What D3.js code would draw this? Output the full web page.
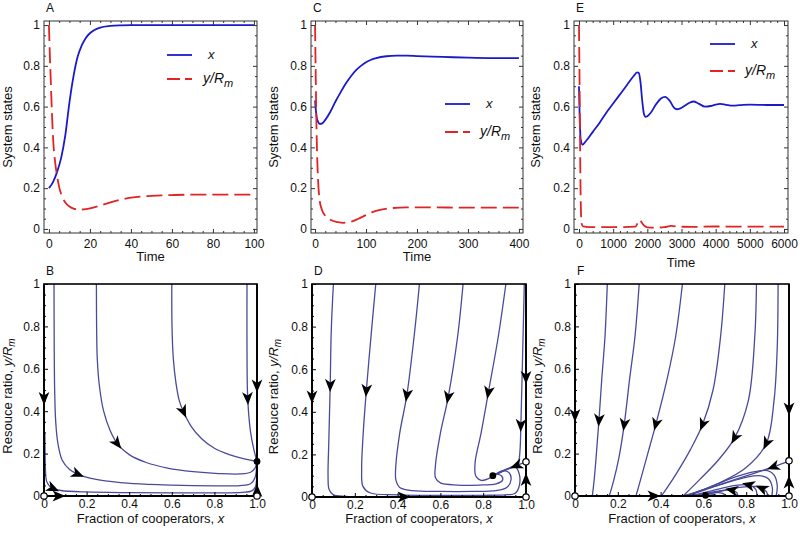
<!DOCTYPE html>
<html><head><meta charset="utf-8">
<script src="https://cdn.jsdelivr.net/npm/d3@7"></script>
<style>
body{margin:0;background:#fff}
svg{display:block}
text{font-family:"Liberation Sans",Arial,Helvetica,sans-serif;fill:#111}
</style>
</head><body>
<svg id="c" width="800" height="537"></svg>
<script>
// ================= DATA =================
// Panel A (time series)
const tA_x=[0,2,4,6,8,10,12,14,16,18,20,22,25,30,35,40,50,60,70,80,90,100];
const xA=[0.2,0.23,0.28,0.35,0.46,0.62,0.75,0.845,0.9,0.937,0.96,0.975,0.988,0.996,0.999,1,1,1,1,1,1,1];
const tA_y=[0,0.5,1,1.5,2,3,4,5,6,8,10,12,15,18,22,26,30,35,40,50,60,70,80,90,100];
const yA=[1,0.84,0.7,0.56,0.45,0.33,0.26,0.205,0.17,0.13,0.11,0.1,0.095,0.097,0.106,0.118,0.13,0.143,0.153,0.162,0.166,0.168,0.168,0.168,0.168];
// Panel C
const tC_x=[0,2,5,10,15,20,30,40,50,60,70,80,90,100,110,120,140,160,180,200,250,300,350,400];
const xC=[0.63,0.57,0.53,0.515,0.52,0.535,0.575,0.625,0.67,0.712,0.748,0.778,0.8,0.818,0.83,0.838,0.847,0.85,0.85,0.848,0.844,0.84,0.838,0.838];
const tC_y=[0,1,2,3,4,5,6.5,9,13,20,30,45,55,70,85,100,115,130,150,180,220,300,400];
const yC=[1,0.8,0.62,0.47,0.36,0.29,0.21,0.14,0.097,0.065,0.045,0.033,0.03,0.035,0.05,0.068,0.085,0.095,0.102,0.106,0.106,0.104,0.104];
// Panel E
const tE_x=[0,20,50,100,200,400,600,800,1000,1200,1400,1600,1700,1750,1800,1850,1900,1950,2000,2100,2250,2400,2520,2650,2780,2860,2950,3100,3250,3350,3500,3690,3850,4000,4130,4300,4500,4700,5000,5500,6000];
const xE=[0.7,0.55,0.44,0.413,0.43,0.475,0.52,0.57,0.615,0.66,0.705,0.75,0.768,0.765,0.72,0.63,0.565,0.55,0.553,0.57,0.61,0.64,0.648,0.63,0.595,0.587,0.59,0.605,0.62,0.625,0.615,0.6,0.603,0.61,0.613,0.609,0.605,0.607,0.61,0.608,0.608];
const tE_y=[0,15,30,45,60,80,120,300,800,1300,1650,1720,1760,1800,1850,1900,2000,2200,2500,2700,2900,3300,4000,5000,6000];
const yE=[1,0.75,0.45,0.2,0.07,0.025,0.012,0.009,0.009,0.009,0.011,0.03,0.045,0.04,0.028,0.017,0.008,0.006,0.009,0.015,0.011,0.01,0.012,0.011,0.011];

// Tick values / labels
const ticksTimeA=[0,20,40,60,80,100];
const ticksTimeC=[0,100,200,300,400];
const ticksTimeE=[0,1000,2000,3000,4000,5000,6000];
const ticksState=[0,0.2,0.4,0.6,0.8,1];
const labelsState=["0","0.2","0.4","0.6","0.8","1"];
const ticksFrac=[0,0.2,0.4,0.6,0.8,1];
const labelsFracX=["0","0.2","0.4","0.6","0.8","1.0"];
const labelsFracY=["0","0.2","0.4","0.6","0.8","1"];

// Panel B (phase portrait) trajectories [x, y/Rm]
const trajB=[
 {pts:[[0.004,0.3],[0.005,0.2],[0.007,0.12],[0.012,0.07],[0.025,0.048],[0.042,0.036],[0.08,0.026],[0.2,0.019],[0.4,0.016],[0.6,0.015],[0.8,0.015],[0.93,0.017],[0.975,0.024],[0.993,0.045],[0.999,0.1],[1,0.163]], arrows:[[0.042,0.036]]},
 {pts:[[0.047,1],[0.048,0.7],[0.05,0.5],[0.055,0.35],[0.065,0.25],[0.085,0.17],[0.12,0.125],[0.16,0.102],[0.22,0.083],[0.3,0.07],[0.42,0.058],[0.6,0.051],[0.8,0.048],[0.92,0.049],[0.97,0.058],[0.99,0.085],[1,0.163]], arrows:[[0.16,0.102]]},
 {pts:[[0.246,1],[0.247,0.8],[0.25,0.65],[0.26,0.52],[0.28,0.4],[0.31,0.31],[0.344,0.247],[0.4,0.195],[0.48,0.158],[0.58,0.132],[0.7,0.115],[0.82,0.106],[0.92,0.104],[0.97,0.112],[0.99,0.13],[1,0.163]], arrows:[[0.344,0.247]]},
 {pts:[[0.6,1],[0.601,0.8],[0.607,0.65],[0.62,0.53],[0.635,0.45],[0.655,0.397],[0.69,0.33],[0.74,0.27],[0.8,0.225],[0.87,0.195],[0.94,0.175],[1,0.163]], arrows:[[0.655,0.397]]},
 {pts:[[0.953,1],[0.953,0.7],[0.955,0.5],[0.96,0.4],[0.97,0.3],[0.985,0.22],[1,0.163]], arrows:[[0.954,0.46]]}
];
const edgesB=[
 {pts:[[0,1],[0,0]], arrows:[[0,0.46]]},
 {pts:[[0,0],[1,0]], arrows:[[0.07,0]]},
 {pts:[[1,1],[1,0.163]], arrows:[[1,0.52]]},
 {pts:[[1,0],[1,0.163]], arrows:[[1,0.025]]}
];
const openB=[[0,0],[1,0]];
const solidB=[[1,0.163]];

// Panel D
const trajD=[
 {pts:[[0.1,1],[0.09,0.78],[0.085,0.523],[0.078,0.24],[0.075,0.1],[0.08,0.035],[0.1,0.01],[0.16,0.003],[0.25,0.001],[0.4,0]], arrows:[[0.085,0.523]]},
 {pts:[[0.298,1],[0.278,0.78],[0.254,0.5],[0.24,0.31],[0.232,0.13],[0.238,0.05],[0.27,0.02],[0.4,0.01],[0.6,0.008],[0.8,0.008],[0.9,0.01],[0.95,0.018],[0.968,0.05],[0.968,0.11],[0.95,0.14],[0.91,0.13],[0.87,0.11],[0.845,0.1]], arrows:[[0.254,0.5]]},
 {pts:[[0.502,1],[0.48,0.78],[0.443,0.477],[0.41,0.3],[0.392,0.15],[0.392,0.08],[0.41,0.045],[0.47,0.03],[0.6,0.026],[0.75,0.026],[0.86,0.03],[0.91,0.045],[0.93,0.08],[0.92,0.115],[0.89,0.122],[0.86,0.108],[0.845,0.1]], arrows:[[0.443,0.477]]},
 {pts:[[0.706,1],[0.68,0.75],[0.636,0.467],[0.6,0.3],[0.577,0.15],[0.577,0.09],[0.6,0.066],[0.68,0.056],[0.78,0.056],[0.86,0.062],[0.89,0.078],[0.885,0.1],[0.86,0.106],[0.845,0.1]], arrows:[[0.636,0.467]]},
 {pts:[[0.906,1],[0.87,0.75],[0.824,0.49],[0.79,0.3],[0.762,0.16],[0.765,0.1],[0.79,0.078],[0.825,0.086],[0.845,0.1]], arrows:[[0.824,0.49]]},
 {pts:[[0.992,1],[0.985,0.7],[0.976,0.337],[0.972,0.22],[0.965,0.17],[0.94,0.145],[0.9,0.127],[0.845,0.1]], arrows:[[0.976,0.337]]},
 {pts:[[1,0.165],[0.955,0.147],[0.9,0.125],[0.845,0.1]], arrows:[[0.955,0.147]]}
];
const edgesD=[
 {pts:[[0,1],[0,0]], arrows:[[0,0.47]]},
 {pts:[[0,0],[1,0]], arrows:[[0.43,0]]},
 {pts:[[1,1],[1,0.165]], arrows:[[1,0.56]]},
 {pts:[[1,0],[1,0.165]], arrows:[[1,0.082]]}
];
const openD=[[0,0],[1,0],[1,0.165]];
const solidD=[[0.845,0.1]];

// Panel F
const trajF=[
 {pts:[[0.151,1],[0.14,0.75],[0.125,0.55],[0.112,0.357],[0.1,0.2],[0.09,0.08],[0.081,0]], arrows:[[0.112,0.357]]},
 {pts:[[0.3,1],[0.28,0.75],[0.255,0.55],[0.23,0.337],[0.205,0.18],[0.18,0.07],[0.16,0]], arrows:[[0.23,0.337]]},
 {pts:[[0.502,1],[0.47,0.75],[0.43,0.55],[0.378,0.339],[0.34,0.2],[0.31,0.09],[0.285,0]], arrows:[[0.378,0.339]]},
 {pts:[[0.7,1],[0.68,0.75],[0.645,0.5],[0.596,0.337],[0.54,0.22],[0.47,0.1],[0.404,0]], arrows:[[0.596,0.337]]},
 {pts:[[0.848,1],[0.84,0.75],[0.81,0.45],[0.746,0.274],[0.67,0.17],[0.58,0.075],[0.505,0]], arrows:[[0.746,0.274]]},
 {pts:[[0.949,1],[0.945,0.7],[0.93,0.45],[0.894,0.248],[0.8,0.135],[0.67,0.06],[0.52,0]], arrows:[[0.894,0.248]]},
 {pts:[[1,0.166],[0.926,0.137],[0.8,0.095],[0.68,0.055],[0.58,0.02],[0.53,0.005],[0.5,0]], arrows:[[0.926,0.137]]},
 {pts:[[0.94,0],[0.945,0.05],[0.93,0.1],[0.9,0.12],[0.84,0.115],[0.75,0.09],[0.65,0.05],[0.56,0.015],[0.5,0]], arrows:[]},
 {pts:[[0.92,0],[0.922,0.04],[0.905,0.08],[0.87,0.095],[0.8,0.088],[0.7,0.06],[0.6,0.03],[0.53,0.006]], arrows:[]},
 {pts:[[0.9,0],[0.895,0.02],[0.873,0.036],[0.84,0.045],[0.78,0.042],[0.7,0.027],[0.62,0.01],[0.56,0.002]], arrows:[[0.873,0.036]]},
 {pts:[[0.85,0],[0.845,0.03],[0.81,0.052],[0.75,0.05],[0.68,0.035],[0.6,0.015],[0.54,0.003]], arrows:[[0.81,0.052]]},
 {pts:[[0.76,0],[0.757,0.015],[0.732,0.028],[0.69,0.027],[0.64,0.018],[0.59,0.008],[0.55,0.002]], arrows:[[0.732,0.028]]},
 {pts:[[0.7,0],[0.695,0.01],[0.67,0.016],[0.63,0.013],[0.59,0.006],[0.56,0]], arrows:[]},
 {pts:[[0.66,0],[0.655,0.006],[0.63,0.009],[0.6,0.006],[0.57,0]], arrows:[]}
];
const edgesF=[
 {pts:[[0,1],[0,0]], arrows:[[0,0.38]]},
 {pts:[[0,0],[1,0]], arrows:[[0.37,0]]},
 {pts:[[1,1],[1,0.166]], arrows:[[1,0.41]]},
 {pts:[[1,0],[1,0.166]], arrows:[[1,0.067]]}
];
const openF=[[0,0],[1,0],[1,0.166]];
const solidF=[[0.61,0.003]];

// ================= DRAWING =================
const svg=d3.select('#c');
const BLUE='#1a1acc', RED='#e02424', TRAJ='#4a4a9c';

function minorVals(lo,hi,step,major){
  const out=[];
  for(let v=lo; v<=hi+1e-9; v+=step){
    const r=Math.round(v*1e6)/1e6;
    if(!major.some(m=>Math.abs(m-r)<1e-9)) out.push(r);
  }
  return out;
}

function axes(g,xs,ys,o){
  const [x0,x1]=xs.range(), [yb,yt]=ys.range();
  const mk=(sel)=>{sel.select('.domain').remove();sel.selectAll('.tick line').attr('stroke',o.frameColor);
    sel.selectAll('text').style('font-size','12px').attr('fill','#111').style('font-family','"Liberation Sans",Arial,sans-serif');};
  g.append('g').attr('transform',`translate(0,${yb})`)
   .call(d3.axisBottom(xs).tickValues(o.xMajor).tickSize(-4).tickPadding(o.xPad).tickFormat((d,i)=>o.xLabels[i])).call(mk);
  g.append('g').attr('transform',`translate(0,${yb})`)
   .call(d3.axisBottom(xs).tickValues(o.xMinor).tickSize(-2).tickFormat('')).call(mk);
  g.append('g').attr('transform',`translate(${x0},0)`)
   .call(d3.axisLeft(ys).tickValues(o.yMajor).tickSize(-4).tickPadding(4).tickFormat((d,i)=>o.yLabels[i])).call(mk);
  g.append('g').attr('transform',`translate(${x0},0)`)
   .call(d3.axisLeft(ys).tickValues(o.yMinor).tickSize(-2).tickFormat('')).call(mk);
  if(o.mirror){
    g.append('g').attr('transform',`translate(0,${yt})`).call(d3.axisTop(xs).tickValues(o.xMajor).tickSize(-4).tickFormat('')).call(mk);
    g.append('g').attr('transform',`translate(0,${yt})`).call(d3.axisTop(xs).tickValues(o.xMinor).tickSize(-2).tickFormat('')).call(mk);
    g.append('g').attr('transform',`translate(${x1},0)`).call(d3.axisRight(ys).tickValues(o.yMajor).tickSize(-4).tickFormat('')).call(mk);
    g.append('g').attr('transform',`translate(${x1},0)`).call(d3.axisRight(ys).tickValues(o.yMinor).tickSize(-2).tickFormat('')).call(mk);
  }
}

function ylabelRm(g,x,y,prefix){
  const t=g.append('text').attr('transform',`translate(${x},${y}) rotate(-90)`).attr('text-anchor','middle').style('font-size','13px');
  t.append('tspan').text(prefix);
  t.append('tspan').style('font-style','italic').text('y/R');
  t.append('tspan').style('font-style','italic').style('font-size','10px').attr('dy',3).text('m');
}

// ---- time panels ----
const topPanels=[
 {letter:'A',fx:[44,257],fy:[233,21],xdom:[-2.4,101.5],xMajor:ticksTimeA,minorStep:5,
  series:[[tA_x,xA],[tA_y,yA]],ylab:12,timeY:257,leg:{x:167,yb:55,yr:79,tx:208,ty:203}},
 {letter:'C',fx:[311,523],fy:[233,21],xdom:[-8,408],xMajor:ticksTimeC,minorStep:20,
  series:[[tC_x,xC],[tC_y,yC]],ylab:278,timeY:257,leg:{x:445,yb:104,yr:132,tx:486,ty:480}},
 {letter:'E',fx:[574,788],fy:[233,21],xdom:[-146,6117],xMajor:ticksTimeE,minorStep:200,
  series:[[tE_x,xE],[tE_y,yE]],ylab:540,timeY:263,leg:{x:710,yb:44,yr:71,tx:751,ty:745}}
];

topPanels.forEach(p=>{
  const g=svg.append('g');
  const xs=d3.scaleLinear().domain(p.xdom).range(p.fx);
  const ys=d3.scaleLinear().domain([-0.02,1.02]).range(p.fy);
  const id='clip'+p.letter;
  svg.append('clipPath').attr('id',id).append('rect').attr('x',p.fx[0]).attr('y',p.fy[1]).attr('width',p.fx[1]-p.fx[0]).attr('height',p.fy[0]-p.fy[1]);
  const line=d3.line().x(d=>xs(d[0])).y(d=>ys(d[1])).curve(d3.curveMonotoneX);
  const [bx,by]=p.series[0], [rx,ry]=p.series[1];
  g.append('path').attr('clip-path',`url(#${id})`).attr('d',line(bx.map((t,i)=>[t,by[i]]))).attr('fill','none').attr('stroke',BLUE).attr('stroke-width',1.8);
  g.append('path').attr('clip-path',`url(#${id})`).attr('d',line(rx.map((t,i)=>[t,ry[i]]))).attr('fill','none').attr('stroke',RED).attr('stroke-width',1.8).attr('stroke-dasharray','16,6');
  g.append('rect').attr('x',p.fx[0]).attr('y',p.fy[1]).attr('width',p.fx[1]-p.fx[0]).attr('height',p.fy[0]-p.fy[1]).attr('fill','none').attr('stroke','#333').attr('stroke-width',1);
  const xd=xs.domain();
  axes(g,xs,ys,{frameColor:'#333',mirror:true,xPad:6,xMajor:p.xMajor,xLabels:p.xMajor.map(String),
    xMinor:minorVals(0,xd[1],p.minorStep,p.xMajor),
    yMajor:ticksState,yLabels:labelsState,yMinor:minorVals(0,1,0.05,ticksState)});
  g.append('text').attr('x',p.fx[0]+2).attr('y',12).style('font-size','12px').text(p.letter);
  g.append('text').attr('x',(p.fx[0]+p.fx[1])/2).attr('y',p.timeY+4).attr('text-anchor','middle').style('font-size','13px').text('Time');
  g.append('text').attr('transform',`translate(${p.ylab},${(p.fy[0]+p.fy[1])/2}) rotate(-90)`).attr('text-anchor','middle').style('font-size','13px').text('System states');
  // legend
  const L=p.leg;
  g.append('line').attr('x1',L.x).attr('x2',L.x+25).attr('y1',L.yb).attr('y2',L.yb).attr('stroke',BLUE).attr('stroke-width',1.8);
  g.append('line').attr('x1',L.x).attr('x2',L.x+25).attr('y1',L.yr).attr('y2',L.yr).attr('stroke',RED).attr('stroke-width',1.8).attr('stroke-dasharray','13,5');
  g.append('text').attr('x',L.tx).attr('y',L.yb+4).style('font-size','13px').style('font-style','italic').text('x');
  const t=g.append('text').attr('x',L.ty).attr('y',L.yr+4).style('font-size','14px').style('font-style','italic');
  t.append('tspan').text('y/R');
  t.append('tspan').attr('dy',4).style('font-size','11px').text('m');
});

// ---- phase panels ----
const botPanels=[
 {letter:'B',fx:[44,257],fy:[496,284],traj:trajB,edges:edgesB,open:openB,solid:solidB,ylab:12},
 {letter:'D',fx:[312,526],fy:[497,284],traj:trajD,edges:edgesD,open:openD,solid:solidD,ylab:278},
 {letter:'F',fx:[575,789],fy:[496,284],traj:trajF,edges:edgesF,open:openF,solid:solidF,ylab:542}
];

function drawArrow(g,path,xs,ys,pt){
  const node=path.node(), L=node.getTotalLength();
  const px=xs(pt[0]), py=ys(pt[1]);
  let best=0,bd=1e9;
  for(let s=0;s<=L;s+=0.5){const q=node.getPointAtLength(s);const d=(q.x-px)**2+(q.y-py)**2;if(d<bd){bd=d;best=s;}}
  const a=node.getPointAtLength(Math.max(0,best-2)), b=node.getPointAtLength(Math.min(L,best+2));
  const ang=Math.atan2(b.y-a.y,b.x-a.x)*180/Math.PI;
  const c=node.getPointAtLength(best);
  g.append('path').attr('d','M6.5,0 L-6.5,-5.4 L-3,0 L-6.5,5.4 Z').attr('fill','#000')
   .attr('transform',`translate(${c.x},${c.y}) rotate(${ang})`);
}

botPanels.forEach(p=>{
  const g=svg.append('g');
  const xs=d3.scaleLinear().domain([0,1]).range(p.fx);
  const ys=d3.scaleLinear().domain([0,1]).range(p.fy);
  const id='clip'+p.letter;
  svg.append('clipPath').attr('id',id).append('rect').attr('x',p.fx[0]-1).attr('y',p.fy[1]-1).attr('width',p.fx[1]-p.fx[0]+2).attr('height',p.fy[0]-p.fy[1]+2);
  const line=d3.line().x(d=>xs(d[0])).y(d=>ys(d[1])).curve(d3.curveCatmullRom.alpha(0.5));
  const arrowsG=[];
  p.traj.forEach(tr=>{
    const path=g.append('path').attr('clip-path',`url(#${id})`).attr('d',line(tr.pts)).attr('fill','none').attr('stroke',TRAJ).attr('stroke-width',1.3);
    arrowsG.push([path,tr.arrows]);
  });
  g.append('rect').attr('x',p.fx[0]).attr('y',p.fy[1]).attr('width',p.fx[1]-p.fx[0]).attr('height',p.fy[0]-p.fy[1]).attr('fill','none').attr('stroke','#000').attr('stroke-width',1.6);
  axes(g,xs,ys,{frameColor:'#000',mirror:false,xPad:3,xMajor:ticksFrac,xLabels:labelsFracX,xMinor:minorVals(0,1,0.05,ticksFrac),
    yMajor:ticksFrac,yLabels:labelsFracY,yMinor:minorVals(0,1,0.05,ticksFrac)});
  p.edges.forEach(e=>{
    const path=g.append('path').attr('d',d3.line().x(d=>xs(d[0])).y(d=>ys(d[1]))(e.pts)).attr('fill','none').attr('stroke','#000').attr('stroke-width',1.8);
    arrowsG.push([path,e.arrows]);
  });
  arrowsG.forEach(([path,arr])=>arr.forEach(pt=>drawArrow(g,path,xs,ys,pt)));
  p.open.forEach(d=>g.append('circle').attr('cx',xs(d[0])).attr('cy',ys(d[1])).attr('r',3.2).attr('fill','#fff').attr('stroke','#000').attr('stroke-width',1.2));
  p.solid.forEach(d=>g.append('circle').attr('cx',xs(d[0])).attr('cy',ys(d[1])).attr('r',3.4).attr('fill','#000'));
  g.append('text').attr('x',p.fx[0]+2).attr('y',p.fy[1]-9).style('font-size','12px').text(p.letter);
  const t=g.append('text').attr('x',(p.fx[0]+p.fx[1])/2).attr('y',523).attr('text-anchor','middle').style('font-size','13px');
  t.append('tspan').text('Fraction of cooperators, ');
  t.append('tspan').style('font-style','italic').text('x');
  ylabelRm(g,p.ylab,(p.fy[0]+p.fy[1])/2+6,'Resouce ratio, ');
});
</script>
</body></html>
